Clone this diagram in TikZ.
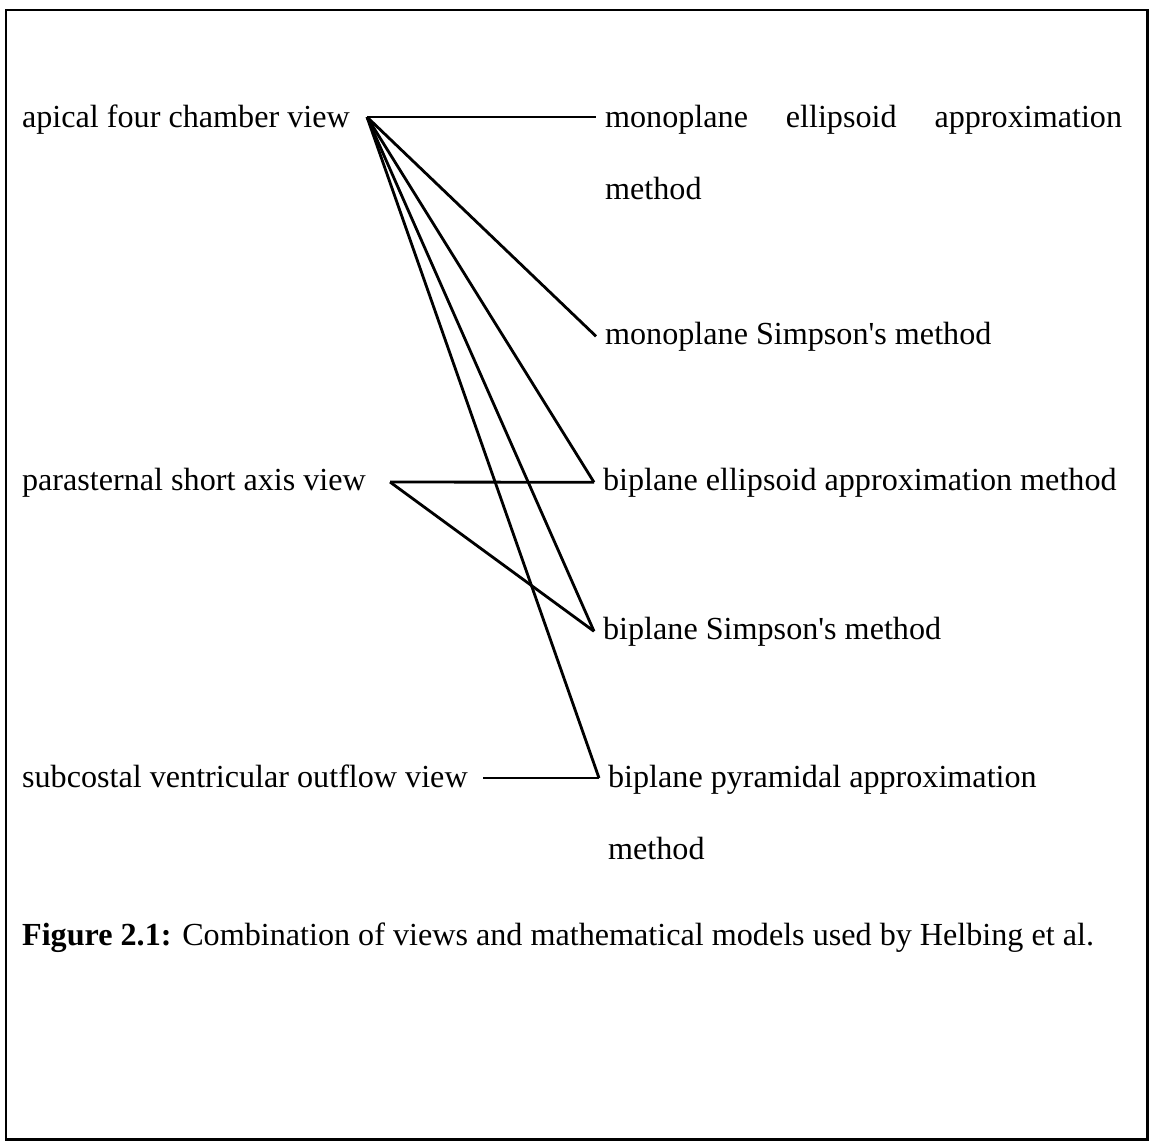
\documentclass[tikz,border=0pt]{standalone}
\usepackage{fontspec}
\setmainfont{Liberation Serif}

\begin{document}
\begin{tikzpicture}[
    x=0.02cm, y=-0.02cm,
    lbl/.style={
        anchor=base west,
        inner xsep=5pt,
        inner ysep=2pt,
        font=\fontsize{18.3}{41}\selectfont
    },
    lnk/.style={
        line width=1.6pt,
        line join=miter
    }
]
\useasboundingbox (0,0) rectangle (1155,1143);
\draw[line width=1.7pt] (6,10) rectangle (1147,1139);

% ---------------- Views ----------------
\node[lbl] (apical) at (13,127) {apical four chamber view};
\node[lbl] (parast) at (13,490) {parasternal short axis view};
\node[lbl] (subcost) at (13,787) {subcostal ventricular outflow view};

\coordinate (apx) at (367,117);
\coordinate (parx) at (390,482);
\coordinate (subx) at (483,778);

% ---------------- Methods ----------------
\node[lbl, text width=10.34cm, align=justify] (monoell) at (596,127)
    {monoplane ellipsoid approximation\linebreak method};
\node[lbl] (monosimp) at (596,344) {monoplane Simpson\textquotesingle s method};
\node[lbl] (biell) at (594,490) {biplane ellipsoid approximation method};
\node[lbl] (bisimp) at (594,639) {biplane Simpson\textquotesingle s method};
\node[lbl, text width=10cm, align=flush left] (pyramid) at (599,787)
    {biplane pyramidal approximation\\method};

% ---------------- Connections ----------------
\draw[lnk] (apx) -- (apx -| monoell.west);
\draw[lnk] (apx) -- (monosimp.west);
\draw[lnk] (apx) -- (biell.west);
\draw[lnk] (apx) -- (bisimp.west);
\draw[lnk] (apx) -- (subx -| pyramid.west);

\draw[lnk] (parx) -- (biell.west);
\draw[lnk] (parx) -- (bisimp.west);

\draw[lnk] (subx) -- (subx -| pyramid.west);

% ---------------- Caption ----------------
\node[lbl] (caption) at (13,945)
    {\textbf{Figure 2.1:} Combination of views and mathematical models used by Helbing et al.};

\end{tikzpicture}
\end{document}
